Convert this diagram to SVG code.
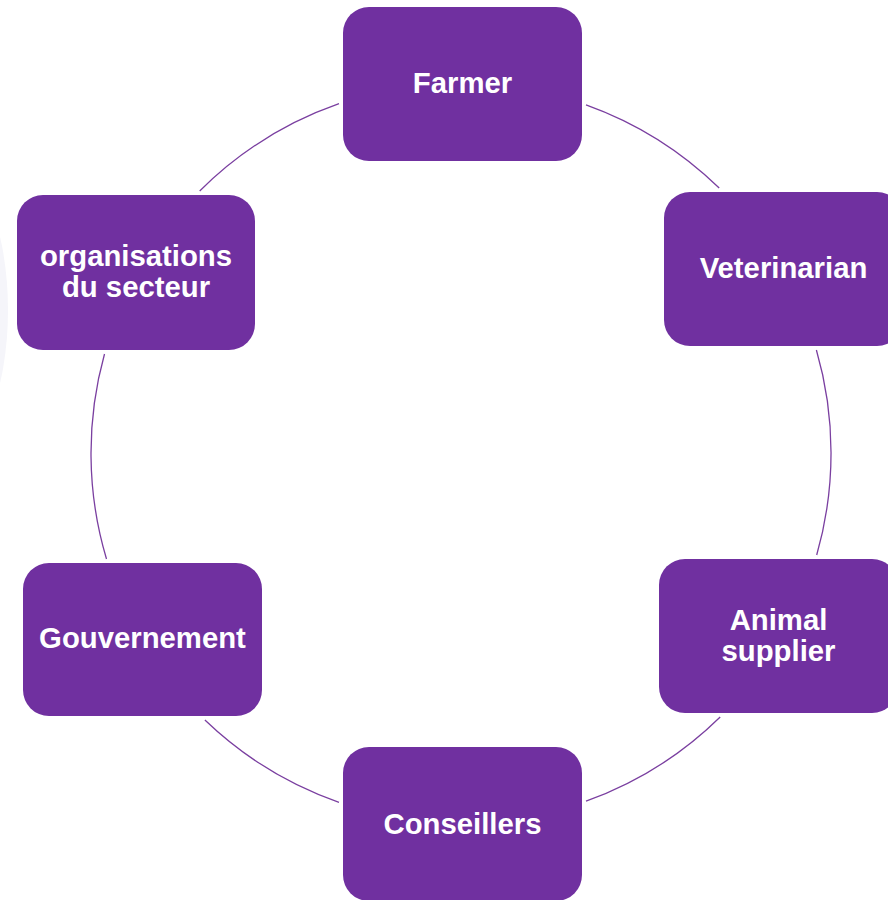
<svg xmlns="http://www.w3.org/2000/svg" width="888" height="900" viewBox="0 0 888 900">
<style>
.box{fill:#7030A0;}
.lbl{font-family:"Liberation Sans",Arial,sans-serif;font-weight:bold;font-size:29.3px;fill:#FFFFFF;text-anchor:middle;}
.arc{fill:none;stroke:#7A3FA0;stroke-width:1.3;}
</style>
<rect width="888" height="900" fill="#FFFFFF"/>
<ellipse cx="-55" cy="310" rx="63" ry="150" fill="#F5F5FA"/>
<g id="connectors">
<path class="arc" d="M586,104.8 A370,370 0 0 1 719.2,188"/>
<path class="arc" d="M816.4,350 A370,370 0 0 1 816.7,555"/>
<path class="arc" d="M720.2,717 A370,370 0 0 1 586,801.2"/>
<path class="arc" d="M339,802.3 A370,370 0 0 1 204.9,720"/>
<path class="arc" d="M106.5,559 A370,370 0 0 1 104.5,354"/>
<path class="arc" d="M199.7,191 A370,370 0 0 1 339,103.7"/>
</g>
<g id="farmer">
<rect class="box" x="343" y="7" width="239" height="154" rx="26"/>
<text class="lbl" x="462.5" y="93">Farmer</text>
</g>
<g id="veterinarian">
<rect class="box" x="664" y="192" width="239" height="154" rx="26"/>
<text class="lbl" x="783.5" y="278">Veterinarian</text>
</g>
<g id="animal-supplier">
<rect class="box" x="659" y="559" width="239" height="154" rx="26"/>
<text class="lbl" x="778.5" y="630">Animal</text>
<text class="lbl" x="778.5" y="661">supplier</text>
</g>
<g id="conseillers">
<rect class="box" x="343" y="747" width="239" height="154" rx="26"/>
<text class="lbl" x="462.5" y="834">Conseillers</text>
</g>
<g id="gouvernement">
<rect class="box" x="23" y="563" width="239" height="153" rx="26"/>
<text class="lbl" x="142.5" y="648">Gouvernement</text>
</g>
<g id="organisations">
<rect class="box" x="17" y="195" width="238" height="155" rx="26"/>
<text class="lbl" x="136" y="266">organisations</text>
<text class="lbl" x="136" y="297">du secteur</text>
</g>
</svg>
